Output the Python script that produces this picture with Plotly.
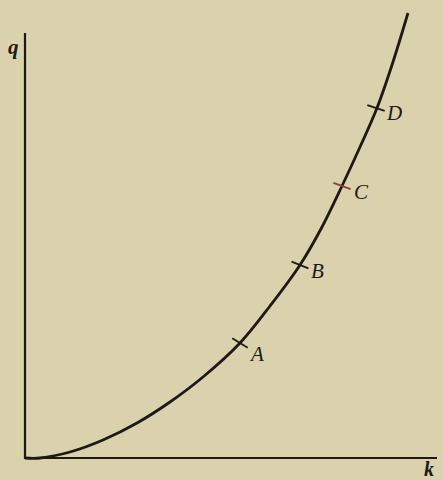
import plotly.graph_objects as go

# curve q(k) (k, q in figure units)
curve_k = [0, 15, 45, 78, 112, 145, 178, 215, 245, 275, 297, 317, 335, 352, 367, 383]
curve_q = [0, 0, 6, 18, 35, 56, 81, 115, 152, 193, 231, 272, 311, 350, 393, 445]

# marked points on the curve
point_names = ["A", "B", "C", "D"]
point_k = [215, 275, 317, 351]
point_q = [115, 193, 272, 350]

# extent of the drawn axes
k_axis_end = 412
q_axis_end = 425

INK = "#1d1a16"
PAPER = "#d9d2ad"
SERIF = "Liberation Serif, DejaVu Serif, serif"

fig = go.Figure()
# axes
fig.add_trace(go.Scatter(x=[0, 0, k_axis_end], y=[q_axis_end, 0, 0], mode="lines",
                         line=dict(color=INK, width=2.2), hoverinfo="skip"))
# curve
fig.add_trace(go.Scatter(x=curve_k, y=curve_q, mode="lines",
                         line=dict(color=INK, width=2.8, shape="spline", smoothing=1.0),
                         hoverinfo="skip"))
# tick marks across the curve
fig.add_trace(go.Scatter(x=point_k, y=point_q, mode="markers",
                         marker=dict(symbol="line-ew", size=13, angle=[32, 22, 20, 18],
                                     line=dict(color=[INK, INK, "#8a4038", INK], width=1.8)),
                         hoverinfo="skip"))

shifts = [(16, -11), (17, -6), (19, -6), (18, -5)]
for name, k, q, (dx, dy) in zip(point_names, point_k, point_q, shifts):
    fig.add_annotation(x=k, y=q, text="<i>" + name + "</i>", showarrow=False,
                       xshift=dx, yshift=dy, font=dict(family=SERIF, size=21, color=INK))

fig.add_annotation(x=-12, y=411, text="<b><i>q</i></b>", showarrow=False,
                   font=dict(family=SERIF, size=21, color=INK))
fig.add_annotation(x=404, y=-11, text="<b><i>k</i></b>", showarrow=False, borderpad=0,
                   font=dict(family=SERIF, size=20, color=INK))

fig.update_layout(width=443, height=480, margin=dict(l=0, r=0, t=0, b=0),
                  paper_bgcolor=PAPER, plot_bgcolor=PAPER, showlegend=False,
                  xaxis=dict(range=[-25, 418], visible=False, fixedrange=True),
                  yaxis=dict(range=[-22, 458], visible=False, fixedrange=True))

fig.write_html("out.html", config={"displayModeBar": False},
               post_script="document.body.style.margin='0';document.body.style.background='%s';" % PAPER)
